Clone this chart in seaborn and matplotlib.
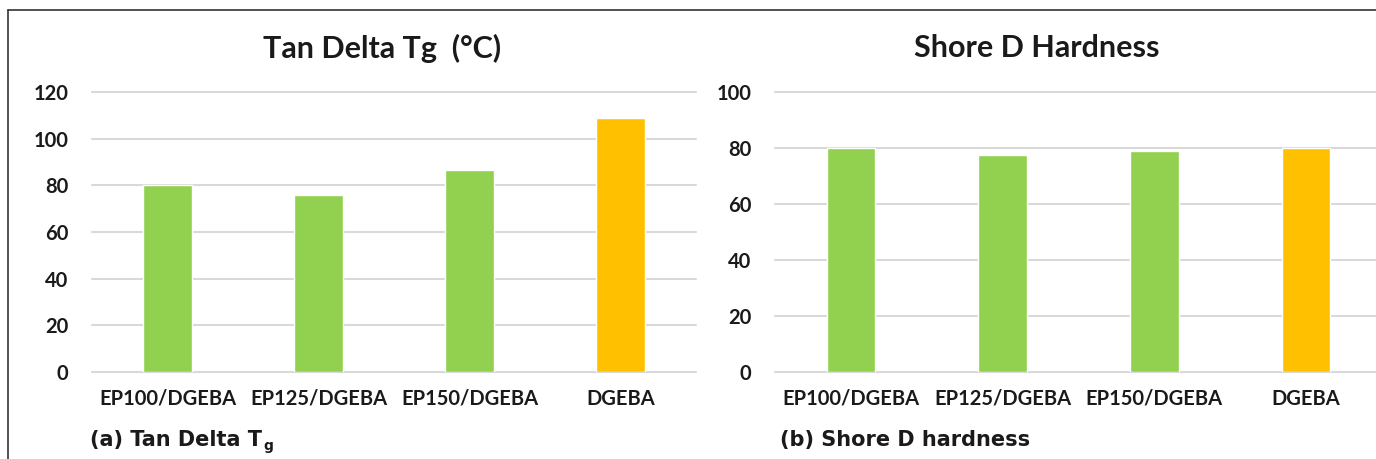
import matplotlib
matplotlib.use("Agg")
import matplotlib.pyplot as plt
import seaborn as sns
import pandas as pd
from matplotlib.lines import Line2D

samples = ["EP100/DGEBA", "EP125/DGEBA", "EP150/DGEBA", "DGEBA"]
tg_values = [80, 76, 86.5, 109]
hardness_values = [80, 77.5, 79, 80]
bar_colors = ["#92D050", "#92D050", "#92D050", "#FFC000"]

sns.set_theme(style="white")
plt.rcParams["font.family"] = ["Lato", "DejaVu Sans"]

fig = plt.figure(figsize=(13.76, 4.59), dpi=100)
W, H = 1376, 459

def px(x, y):
    return x / W, 1 - y / H

panels = [
    (tg_values, 120, 92, 604, "Tan Delta Tg  (°C)", 382),
    (hardness_values, 100, 775, 607, "Shore D Hardness", 1037),
]

for vals, ymax, left, width, title, tx in panels:
    ax = fig.add_axes([left / W, 1 - 372 / H, width / W, 280 / H])
    df = pd.DataFrame({"sample": samples, "value": vals})
    sns.barplot(data=df, x="sample", y="value", hue="sample",
                palette=dict(zip(samples, bar_colors)), width=0.32,
                legend=False, ax=ax, saturation=1)
    ax.set_ylim(0, ymax)
    ax.set_yticks(range(0, ymax + 1, 20))
    ax.yaxis.grid(True, color="#D9D9D9", linewidth=1.5)
    ax.set_axisbelow(True)
    for gl in ax.get_ygridlines():
        gl.set_clip_on(False)
    for s in ax.spines.values():
        s.set_visible(False)
    ax.set_xlabel("")
    ax.set_ylabel("")
    ax.tick_params(axis="both", length=0, labelsize=14.5, labelcolor="#1a1a1a")
    ax.tick_params(axis="y", pad=17)
    ax.tick_params(axis="x", pad=12)
    for lab in ax.get_xticklabels() + ax.get_yticklabels():
        lab.set_fontweight("bold")
    fx, fy = px(tx, 48)
    fig.text(fx, fy, title, ha="center", va="center", fontsize=22,
             fontweight="bold", color="#1a1a1a")

# captions (condensed face)
cap_font = ["DejaVu Sans Condensed", "DejaVu Sans"]
cx, cy = px(90, 440)
t1 = fig.text(cx, cy, "(a) Tan Delta T", ha="left", va="center", fontsize=15,
              fontweight="bold", family=cap_font, color="#1a1a1a")
cx2, cy2 = px(780, 440)
fig.text(cx2, cy2, "(b) Shore D hardness", ha="left", va="center", fontsize=15,
         fontweight="bold", family=cap_font, color="#1a1a1a")
fig.canvas.draw()
bb = t1.get_window_extent()
fig.text((bb.x1 + 1) / W, (bb.y0 - 3) / H, "g", ha="left", va="bottom",
         fontsize=10, fontweight="bold", family=cap_font, color="#1a1a1a")

# frame lines
fig.add_artist(Line2D([8 / W, 8 / W], [1 - 10 / H, 0], color="#333333", linewidth=1.2))
fig.add_artist(Line2D([8 / W, 1], [1 - 10 / H, 1 - 10 / H], color="#333333", linewidth=1.2))

fig.savefig("out.png", dpi=100)
